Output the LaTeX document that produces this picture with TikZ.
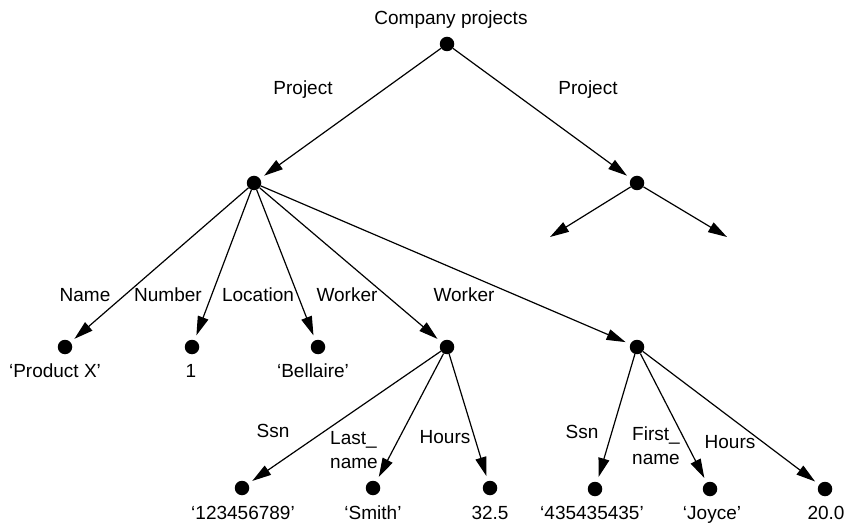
\documentclass[tikz,border=0pt]{standalone}
\usepackage{fontspec}
\setmainfont{Liberation Sans}
\usetikzlibrary{arrows.meta}
\begin{document}
\begin{tikzpicture}[x=1bp,y=-1bp,
  font=\fontsize{19bp}{24bp}\selectfont,
  dot/.style={circle,fill=black,inner sep=0pt,minimum size=14.5bp},
  arr/.style={line width=1.2bp,-{Triangle[length=19bp,width=11bp]},shorten >=5bp},
  lbl/.style={inner sep=0pt,anchor=base},
  lbl2/.style={inner sep=0pt,anchor=north west,align=left},
  ]
\useasboundingbox (0,0) rectangle (850,525);
% dots
\node[dot] (root) at (447,44) {};
\node[dot] (p1) at (254,183) {};
\node[dot] (p2) at (637,183) {};
\coordinate (e1) at (550,237);
\coordinate (e2) at (727,237);
\node[dot] (name) at (65,347) {};
\node[dot] (num) at (192,347) {};
\node[dot] (loc) at (318,347) {};
\node[dot] (w1) at (447,347) {};
\node[dot] (w2) at (637,347) {};
\node[dot] (ssn1) at (242,488) {};
\node[dot] (last) at (373,488) {};
\node[dot] (hrs1) at (490,488) {};
\node[dot] (ssn2) at (595,489) {};
\node[dot] (first) at (710,489) {};
\node[dot] (hrs2) at (825,489) {};
% connectors
\draw[arr] (root) -- (p1);
\draw[arr] (root) -- (p2);
\draw[arr,shorten >=0pt] (p2) -- (e1);
\draw[arr,shorten >=0pt] (p2) -- (e2);
\draw[arr] (p1) -- (name);
\draw[arr] (p1) -- (num);
\draw[arr] (p1) -- (loc);
\draw[arr] (p1) -- (w1);
\draw[arr] (p1) -- (w2);
\draw[arr] (w1) -- (ssn1);
\draw[arr] (w1) -- (last);
\draw[arr] (w1) -- (hrs1);
\draw[arr] (w2) -- (ssn2);
\draw[arr] (w2) -- (first);
\draw[arr] (w2) -- (hrs2);
% labels
\node[lbl] (title) at (451,25) {Company projects};
\node[lbl] (lp1) at (303,95) {Project};
\node[lbl] (lp2) at (588,95) {Project};
\node[lbl] (lname) at (85,302) {Name};
\node[lbl] (lnum) at (168,302) {Number};
\node[lbl] (lloc) at (258,302) {Location};
\node[lbl] (lw1) at (347,302) {Worker};
\node[lbl] (lw2) at (464,302) {Worker};
\node[lbl] (vname) at (55,377) {‘Product X’};
\node[lbl] (vnum) at (191,377) {1};
\node[lbl] (vloc) at (313,377) {‘Bellaire’};
\node[lbl] (lssn1) at (273,437) {Ssn};
\node[lbl2] (llast) at (330,431) {Last\_\\name};
\node[lbl] (lhrs1) at (445,443) {Hours};
\node[lbl] (lssn2) at (582,438) {Ssn};
\node[lbl2] (lfirst) at (632,427) {First\_\\name};
\node[lbl] (lhrs2) at (730,448) {Hours};
\node[lbl] (vssn1) at (243,519) {‘123456789’};
\node[lbl] (vlast) at (373,519) {‘Smith’};
\node[lbl] (vhrs1) at (490,519) {32.5};
\node[lbl] (vssn2) at (592,519) {‘435435435’};
\node[lbl] (vfirst) at (712,519) {‘Joyce’};
\node[lbl] (vhrs2) at (826,519) {20.0};
\end{tikzpicture}
\end{document}
